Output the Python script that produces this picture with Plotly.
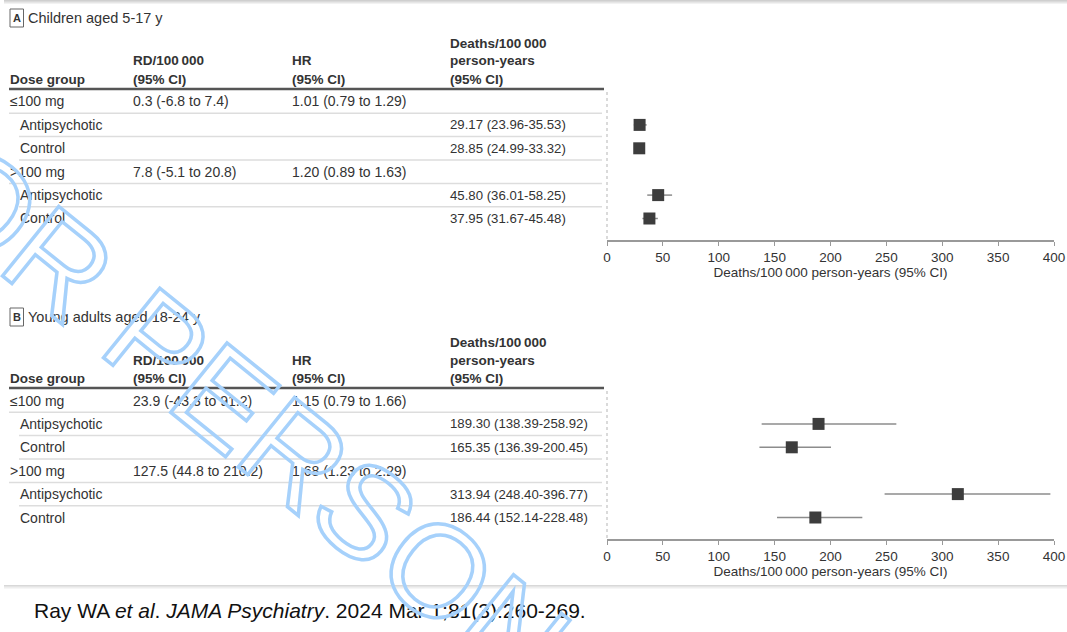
import plotly.graph_objects as go

# ---- data -------------------------------------------------------------
dose_groups = ["≤100 mg", ">100 mg"]
arms = ["Antipsychotic", "Control"]

panel_labels = ["A", "B"]
panel_titles = ["Children aged 5-17 y", "Young adults aged 18-24 y"]

# risk difference per 100 000 (estimate, lower, upper) for each dose group
rd_a = [(0.3, -6.8, 7.4), (7.8, -5.1, 20.8)]
rd_b = [(23.9, -43.3, 91.2), (127.5, 44.8, 210.2)]

# hazard ratios (estimate, lower, upper)
hr_a = [(1.01, 0.79, 1.29), (1.20, 0.89, 1.63)]
hr_b = [(1.15, 0.79, 1.66), (1.68, 1.23, 2.29)]

# deaths per 100 000 person-years, order: <=100 antipsychotic, <=100 control,
# >100 antipsychotic, >100 control
rate_a = [29.17, 28.85, 45.80, 37.95]
lo_a = [23.96, 24.99, 36.01, 31.67]
hi_a = [35.53, 33.32, 58.25, 45.48]

rate_b = [189.30, 165.35, 313.94, 186.44]
lo_b = [138.39, 136.39, 248.40, 152.14]
hi_b = [258.92, 200.45, 396.77, 228.48]

x_ticks = [0, 50, 100, 150, 200, 250, 300, 350, 400]
axis_title = "Deaths/100\u2009000 person-years (95% CI)"
col_headers = [["Dose group"], ["RD/100\u2009000", "(95% CI)"], ["HR", "(95% CI)"],
               ["Deaths/100\u2009000", "person-years", "(95% CI)"]]
citation = "Ray WA <i>et al</i>. <i>JAMA Psychiatry</i>. 2024 Mar 1;81(3):260-269."
watermark = "FOR PERSONAL USE ONLY"

# ---- layout helpers (pixel -> paper) ----------------------------------
LAYOUT_W, H = 1082, 632
W = 1067                      # horizontal extent used for pixel placement
def px(x):
    return x / W

def py(y):
    return 1 - y / H

FONT = "Liberation Sans, Arial, sans-serif"
TXT = "#333333"
ROW0, ROW_STEP = 101.5, 23.4
COL_X = [6, 129, 288, 446]
HEAD_Y = [79, 61, 43]          # header line centres, bottom line first
PLOT_X0, PLOT_X1 = 603, 1050

panels = [
    dict(off=0, rd=rd_a, hr=hr_a, rate=rate_a, lo=lo_a, hi=hi_a),
    dict(off=299, rd=rd_b, hr=hr_b, rate=rate_b, lo=lo_b, hi=hi_b),
]

fig = go.Figure()
annotations = []
shapes = []

def text(x, y, s, size=14, bold=False, color=TXT, xanchor="left", yanchor="middle", family=FONT):
    if bold:
        s = "<b>" + s + "</b>"
    annotations.append(dict(x=px(x), y=py(y), xref="paper", yref="paper", text=s,
                            showarrow=False, xanchor=xanchor, yanchor=yanchor, align="left",
                            borderpad=0, borderwidth=0,
                            font=dict(family=family, size=size, color=color)))

def hline(x0, x1, y, color, width):
    shapes.append(dict(type="line", xref="paper", yref="paper", x0=px(x0), x1=px(x1),
                       y0=py(y), y1=py(y), line=dict(color=color, width=width)))

# card soft shadow, top and bottom, and right edge
for i, c in enumerate(["#cfcfcf", "#dadada", "#e6e6e6", "#f2f2f2"]):
    hline(0, W, 0.5 + i, c, 1)
for i, c in enumerate(["#d8d8d8", "#e4e4e4", "#eeeeee", "#f6f6f6"]):
    hline(0, 1064, 585.5 + i, c, 1)
shapes.append(dict(type="line", xref="paper", yref="paper", x0=px(1063.5), x1=px(1063.5),
                   y0=py(3), y1=py(586), line=dict(color="#dedede", width=1)))

for p, pan in enumerate(panels):
    off = pan["off"]
    ax = "" if p == 0 else str(p + 1)

    # panel label box and title
    shapes.append(dict(type="rect", xref="paper", yref="paper", x0=px(6), x1=px(19.5),
                       y0=py(9 + off), y1=py(27 + off), line=dict(color="#666666", width=1)))
    text(12.8, 18 + off, panel_labels[p], size=11, bold=True, xanchor="center")
    text(23.5, 17.5 + off, panel_titles[p], size=14.5)

    # column headers
    for c, lines in enumerate(col_headers):
        for j, line in enumerate(reversed(lines)):
            text(COL_X[c], HEAD_Y[j] + off, line, size=13.5, bold=True)
    hline(5, 600, 89 + off, "#555555", 2.5)

    # rows
    row_y = [ROW0 + ROW_STEP * i + off for i in range(6)]
    k = 0
    for g in range(2):
        r = 3 * g
        text(COL_X[0], row_y[r], dose_groups[g])
        e, l, u = pan["rd"][g]
        text(COL_X[1], row_y[r], f"{e:.1f} ({l:.1f} to {u:.1f})")
        e, l, u = pan["hr"][g]
        text(COL_X[2], row_y[r], f"{e:.2f} ({l:.2f} to {u:.2f})")
        for a in range(2):
            ry = row_y[r + 1 + a]
            text(16, ry, arms[a])
            text(COL_X[3], ry, f"{pan['rate'][k]:.2f} ({pan['lo'][k]:.2f}-{pan['hi'][k]:.2f})",
                 size=13.2)
            k += 1
    for i in range(5):
        ymid = (row_y[i] + row_y[i + 1]) / 2
        hline(5 if i in (0, 3) else 15, 598, ymid, "#dddddd", 1.5)

    # dotted left edge of the plot region
    shapes.append(dict(type="line", xref="paper", yref="paper", x0=px(PLOT_X0), x1=px(PLOT_X0),
                       y0=py(92 + off), y1=py(240 + off),
                       line=dict(color="#b5b5b5", width=1, dash="dot")))

    # forest plot markers with CIs
    ys = [1, 2, 4, 5]
    fig.add_trace(go.Scatter(
        x=pan["rate"], y=ys, mode="markers", xaxis="x" + ax, yaxis="y" + ax,
        marker=dict(symbol="square", size=12, color="#3d3d3d"),
        error_x=dict(type="data", symmetric=False,
                     array=[h - r for h, r in zip(pan["hi"], pan["rate"])],
                     arrayminus=[r - l for r, l in zip(pan["rate"], pan["lo"])],
                     color="#8c8c8c", thickness=1.5, width=0),
        showlegend=False, hoverinfo="skip"))

    y_bottom = (240 - ROW0) / ROW_STEP
    y_top = (92 - ROW0) / ROW_STEP
    fig.layout["xaxis" + ax] = dict(
        domain=[px(PLOT_X0), px(PLOT_X1)], range=[0, 400], anchor="y" + ax,
        tickvals=x_ticks, ticks="outside", ticklen=4, tickwidth=1.2, tickcolor="#999999",
        showline=True, linecolor="#999999", linewidth=1.5, showgrid=False, zeroline=False,
        tickfont=dict(family=FONT, size=13.5, color=TXT),
        title=dict(text=axis_title, font=dict(family=FONT, size=13.5, color=TXT), standoff=4))
    fig.layout["yaxis" + ax] = dict(
        domain=[py(240 + off), py(92 + off)], range=[y_bottom, y_top], anchor="x" + ax,
        visible=False, fixedrange=True)

# citation line
annotations.append(dict(x=px(30), y=py(610), xref="paper", yref="paper", text=citation,
                        showarrow=False, xanchor="left", yanchor="middle",
                        borderpad=0, borderwidth=0,
                        font=dict(family=FONT, size=21, color="#111111")))

# outlined diagonal watermark
annotations.append(dict(
    x=px(538), y=py(655), xref="paper", yref="paper", showarrow=False,
    xanchor="center", yanchor="middle", textangle=39,
    text='<span style="fill:none;stroke:#a6d1fb;stroke-width:3.5px">' + watermark + "</span>",
    font=dict(family=FONT, size=130, color="#a6d1fb")))

fig.update_layout(width=LAYOUT_W, height=H, margin=dict(l=0, r=0, t=0, b=0),
                  paper_bgcolor="white", plot_bgcolor="white",
                  annotations=annotations, shapes=shapes)

fig.write_html("out.html")
